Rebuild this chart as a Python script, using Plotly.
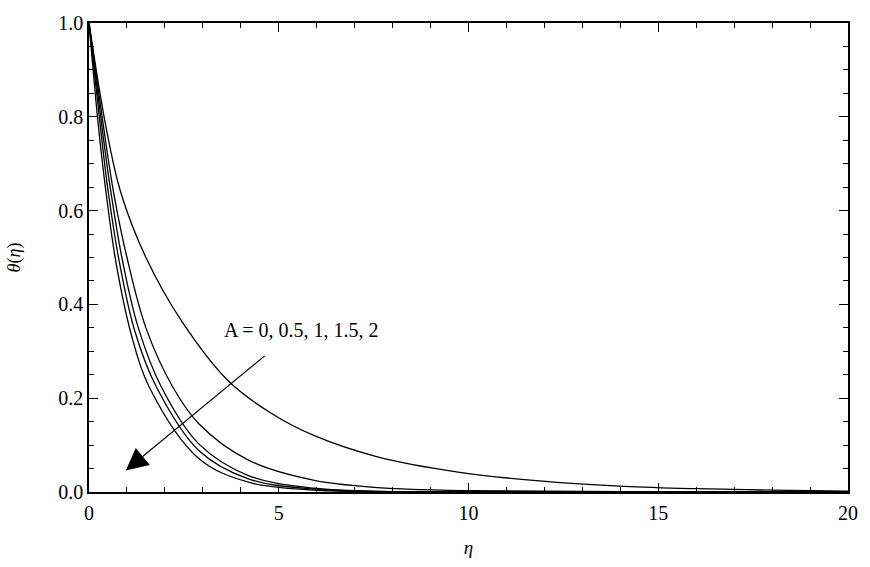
import plotly.graph_objects as go

# Data (eta, theta) for each A
A_labels = ["0", "0.5", "1", "1.5", "2"]

eta_A0 = [0, 0.43, 0.84, 1.5, 2.46, 3.68, 4.8, 5.94, 7.6, 9.77, 11.95, 14.1, 16, 18, 20]
theta_A0 = [1.0, 0.786, 0.638, 0.50, 0.362, 0.236, 0.168, 0.12, 0.075, 0.042, 0.023, 0.012, 0.007, 0.004, 0.002]

eta_A05 = [0, 0.37, 0.65, 1.0, 1.5, 2.2, 2.9, 4.2, 5.94, 8.1, 10, 14, 20]
theta_A05 = [1.0, 0.786, 0.638, 0.50, 0.35, 0.225, 0.145, 0.068, 0.025, 0.007, 0.003, 0.0005, 0.0]

eta_A1 = [0, 0.33, 0.58, 0.89, 1.3, 1.9, 2.9, 4.2, 5.94, 8, 12, 20]
theta_A1 = [1.0, 0.786, 0.638, 0.49, 0.35, 0.225, 0.102, 0.035, 0.008, 0.001, 0.0, 0.0]

eta_A15 = [0, 0.29, 0.51, 0.80, 1.2, 1.77, 2.9, 4.2, 5.94, 8, 12, 20]
theta_A15 = [1.0, 0.786, 0.638, 0.49, 0.345, 0.225, 0.088, 0.028, 0.006, 0.001, 0.0, 0.0]

eta_A2 = [0, 0.24, 0.45, 0.71, 1.1, 1.58, 2.9, 4.2, 5.94, 8, 12, 20]
theta_A2 = [1.0, 0.786, 0.638, 0.49, 0.34, 0.225, 0.071, 0.021, 0.004, 0.0005, 0.0, 0.0]

series = [
    (eta_A0, theta_A0),
    (eta_A05, theta_A05),
    (eta_A1, theta_A1),
    (eta_A15, theta_A15),
    (eta_A2, theta_A2),
]

x_ticks = [0, 5, 10, 15, 20]
y_ticks = [0.0, 0.2, 0.4, 0.6, 0.8, 1.0]

# Annotation: label text and arrow (tail -> tip), in data units
label_text = "A = 0, 0.5, 1, 1.5, 2"
label_pos = (5.6, 0.346)
arrow_tail = (4.67, 0.293)
arrow_tip = (0.97, 0.046)

fig = go.Figure()
for (xs, ys), a in zip(series, A_labels):
    fig.add_trace(go.Scatter(
        x=xs, y=ys, mode="lines", name="A = " + a,
        line=dict(color="black", width=1.3, shape="spline", smoothing=1.0),
        showlegend=False,
    ))

font_family = "Liberation Serif"

fig.update_layout(
    width=870, height=567,
    margin=dict(l=89, r=15, t=19, b=75),
    paper_bgcolor="white", plot_bgcolor="white",
    font=dict(family=font_family, size=20, color="black"),
    showlegend=False,
)

fig.update_xaxes(
    range=[0, 20], tickvals=x_ticks, ticktext=[str(v) for v in x_ticks],
    ticks="inside", ticklen=9, tickwidth=1.2, tickcolor="black",
    minor=dict(dtick=1, ticks="inside", ticklen=5, tickwidth=1, tickcolor="black", showgrid=False),
    showline=True, linecolor="black", linewidth=1.5, mirror="allticks",
    showgrid=False, zeroline=False,
    tickfont=dict(family=font_family, size=20, color="black"),
    ticklabelstandoff=2,
    title=dict(text="<i>η</i>", standoff=18, font=dict(family=font_family, size=19)),
)
fig.update_yaxes(
    range=[0, 1.0], tickvals=y_ticks, ticktext=[f"{v:.1f}" for v in y_ticks],
    ticks="inside", ticklen=9, tickwidth=1.2, tickcolor="black",
    minor=dict(dtick=0.05, ticks="inside", ticklen=5, tickwidth=1, tickcolor="black", showgrid=False),
    showline=True, linecolor="black", linewidth=1.5, mirror="allticks",
    showgrid=False, zeroline=False,
    tickfont=dict(family=font_family, size=20, color="black"),
    title=dict(text="<i>θ</i>(<i>η</i>)", standoff=33, font=dict(family=font_family, size=18)),
)

fig.add_annotation(
    x=label_pos[0], y=label_pos[1], xref="x", yref="y",
    text=label_text, showarrow=False,
    font=dict(family=font_family, size=20, color="black"),
)
fig.add_annotation(
    x=arrow_tip[0], y=arrow_tip[1], xref="x", yref="y",
    ax=arrow_tail[0], ay=arrow_tail[1], axref="x", ayref="y",
    text="", showarrow=True,
    arrowhead=2, arrowsize=4, arrowwidth=1.1, arrowcolor="black",
)

fig.write_html("out.html")
